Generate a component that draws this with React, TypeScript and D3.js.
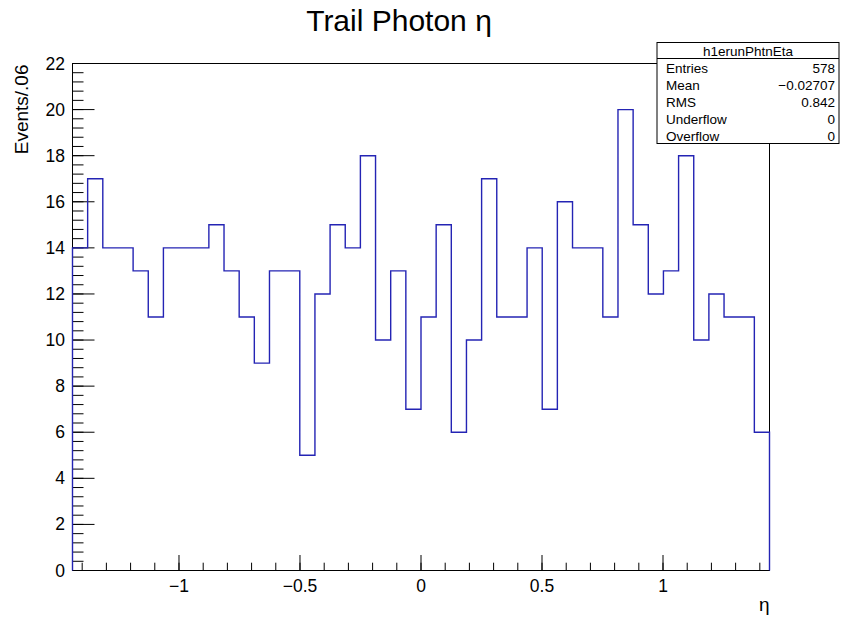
import React from "react";
import * as d3 from "d3";

// ---- data ----
const xMin = -1.44;
const xMax = 1.44;
const binCounts = [
  14, 17, 14, 14, 13, 11, 14, 14, 14, 15,
  13, 11, 9, 13, 13, 5, 12, 15, 14, 18,
  10, 13, 7, 11, 15, 6, 10, 17, 11, 11,
  14, 7, 16, 14, 14, 11, 20, 15, 12, 13,
  18, 10, 12, 11, 11, 6,
];
const xMajorTicks = [-1, -0.5, 0, 0.5, 1];
const xTickLabels = ["\u22121", "\u22120.5", "0", "0.5", "1"];
const yMajorTicks = [0, 2, 4, 6, 8, 10, 12, 14, 16, 18, 20, 22];
const yTickLabels = ["0", "2", "4", "6", "8", "10", "12", "14", "16", "18", "20", "22"];
const statsNames = ["Entries", "Mean", "RMS", "Underflow", "Overflow"];
const statsValues = ["578", "\u22120.02707", "0.842", "0", "0"];
const histName = "h1erunPhtnEta";
const title = "Trail Photon \u03b7";
const xTitle = "\u03b7";
const yTitle = "Events/.06";

const W = 841;
const H = 619;
const FL = 72.5;
const FR = 769.5;
const FT = 63.5;
const FB = 570.5;
const FONT = "'Liberation Sans', Arial, Helvetica, sans-serif";

export default function App() {
  const x = d3.scaleLinear().domain([xMin, xMax]).range([FL, FR]);
  const y = d3.scaleLinear().domain([0, 22]).range([FB, FT]);
  const n = binCounts.length;
  const bw = (xMax - xMin) / n;

  const pts: [number, number][] = [[xMin, 0]];
  binCounts.forEach((v, i) => pts.push([xMin + i * bw, v]));
  pts.push([xMax, binCounts[n - 1]]);
  pts.push([xMax, 0]);
  const line = d3
    .line<[number, number]>()
    .x((d) => x(d[0]))
    .y((d) => y(d[1]))
    .curve(d3.curveStepAfter);
  const histPath = line(pts) || "";

  const xMinor = d3.range(-14, 15).map((k) => k / 10);
  const yMinor = d3.range(0, 56).map((k) => k * 0.4).filter((v) => v <= 22.001);

  const xMajLen = 15.5;
  const xMinLen = 7.8;
  const yMajLen = 22;
  const yMinLen = 11;

  const boxL = 657;
  const boxR = 839;
  const boxT = 42.5;
  const boxB = 143.5;
  const sep = 58.5;

  return (
    <svg
      width={W}
      height={H}
      style={{ position: "absolute", left: 0, top: 0, background: "#fff" }}
      fontFamily={FONT}
    >
      <rect x={0} y={0} width={W} height={H} fill="#fff" />
      {/* title */}
      <text x={399} y={31} fontSize={30} textAnchor="middle" fill="#000">
        {title}
      </text>

      {/* frame */}
      <rect x={FL} y={FT} width={FR - FL} height={FB - FT} fill="none" stroke="#000" strokeWidth={1} />

      {/* x ticks */}
      {xMinor.map((t, i) => (
        <line key={"xm" + i} x1={x(t)} x2={x(t)} y1={FB} y2={FB - xMinLen} stroke="#000" />
      ))}
      {xMajorTicks.map((t, i) => (
        <g key={"xM" + i}>
          <line x1={x(t)} x2={x(t)} y1={FB} y2={FB - xMajLen} stroke="#000" />
          <text x={x(t)} y={592} fontSize={17.5} textAnchor="middle" fill="#000">
            {xTickLabels[i]}
          </text>
        </g>
      ))}

      {/* y ticks */}
      {yMinor.map((t, i) => (
        <line key={"ym" + i} x1={FL} x2={FL + yMinLen} y1={y(t)} y2={y(t)} stroke="#000" />
      ))}
      {yMajorTicks.map((t, i) => (
        <g key={"yM" + i}>
          <line x1={FL} x2={FL + yMajLen} y1={y(t)} y2={y(t)} stroke="#000" />
          <text x={65} y={y(t) + 6} fontSize={17.5} textAnchor="end" fill="#000">
            {yTickLabels[i]}
          </text>
        </g>
      ))}

      {/* axis titles */}
      <text x={FR} y={611} fontSize={19} textAnchor="end" fill="#000">
        {xTitle}
      </text>
      <text
        transform={`translate(28,${FT + 1}) rotate(-90)`}
        fontSize={19}
        textAnchor="end"
        fill="#000"
      >
        {yTitle}
      </text>

      {/* histogram */}
      <path d={histPath} fill="none" stroke="#2424b4" strokeWidth={1.4} />

      {/* stats box */}
      <rect x={boxL} y={boxT} width={boxR - boxL} height={boxB - boxT} fill="#fff" stroke="#000" strokeWidth={1} />
      <line x1={boxL} x2={boxR} y1={sep} y2={sep} stroke="#000" />
      <text x={(boxL + boxR) / 2} y={55.5} fontSize={13.5} textAnchor="middle" fill="#000">
        {histName}
      </text>
      {statsNames.map((nm, i) => (
        <g key={"s" + i}>
          <text x={666} y={73 + i * 17} fontSize={13.5} fill="#000">
            {nm}
          </text>
          <text x={835} y={73 + i * 17} fontSize={13.5} textAnchor="end" fill="#000">
            {statsValues[i]}
          </text>
        </g>
      ))}
    </svg>
  );
}
